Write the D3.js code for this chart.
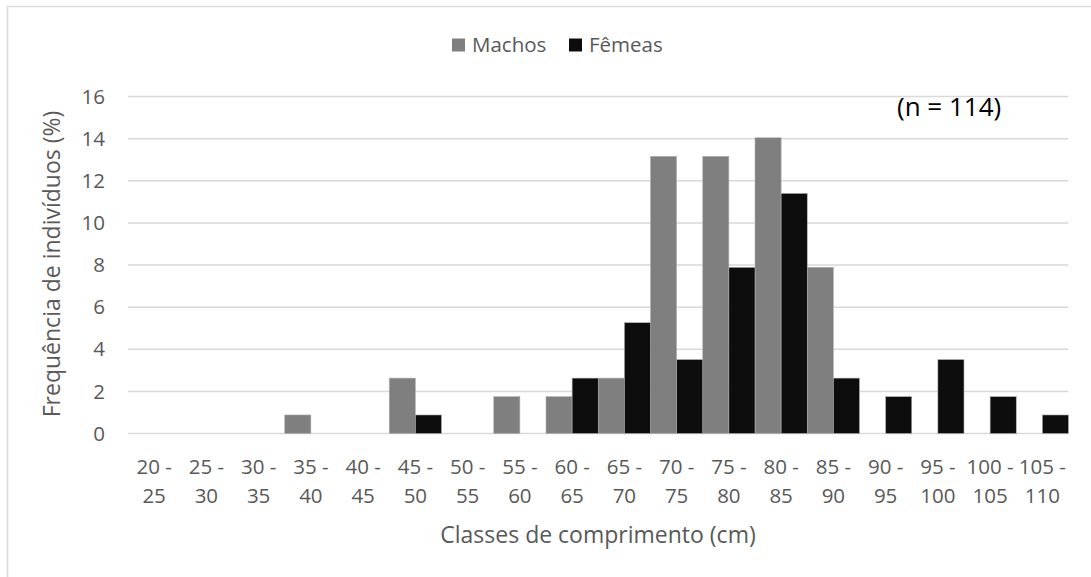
<!DOCTYPE html>
<html><head><meta charset="utf-8">
<script src="https://cdn.jsdelivr.net/npm/d3@7"></script>
<style>body{margin:0;background:#fff;} svg{display:block;}</style>
</head><body>
<svg id="c" width="1091" height="577"></svg>
<script>
const categories = [["20 -","25"],["25 -","30"],["30 -","35"],["35 -","40"],["40 -","45"],["45 -","50"],["50 -","55"],["55 -","60"],["60 -","65"],["65 -","70"],["70 -","75"],["75 -","80"],["80 -","85"],["85 -","90"],["90 -","95"],["95 -","100"],["100 -","105"],["105 -","110"]];
const machos = [0,0,0,0.88,0,2.63,0,1.75,1.75,2.63,13.16,13.16,14.04,7.89,0,0,0,0];
const femeas = [0,0,0,0,0,0.88,0,0,2.63,5.26,3.51,7.89,11.40,2.63,1.75,3.51,1.75,0.88];
const yTicks = [0,2,4,6,8,10,12,14,16];
const seriesNames = ["Machos","Fêmeas"];
const colors = ["#7f7f7f","#0d0d0d"];

const svg = d3.select("#c");
const font = "'Open Sans', sans-serif";
const m = {left:128, right:1068.5, top:96.5, bottom:433.5};

svg.append("rect").attr("x",7.5).attr("y",6.5).attr("width",1200).attr("height",700)
  .attr("fill","#fff").attr("stroke","#d9d9d9").attr("stroke-width",1.5);

const x = d3.scaleBand().domain(d3.range(categories.length)).range([m.left,m.right]).padding(0);
const xs = d3.scaleBand().domain([0,1]).range([0,x.bandwidth()]).padding(0);
const y = d3.scaleLinear().domain([0,16]).range([m.bottom,m.top]);

// gridlines
svg.append("g").selectAll("line").data(yTicks).join("line")
  .attr("x1",m.left).attr("x2",m.right)
  .attr("y1",d=>y(d)).attr("y2",d=>y(d))
  .attr("stroke","#d9d9d9").attr("stroke-width",1.5);

// y tick labels
svg.append("g").selectAll("text").data(yTicks).join("text")
  .attr("x",105).attr("y",d=>y(d)).attr("dy","0.35em")
  .attr("text-anchor","end").attr("font-family",font).attr("font-size",20.5)
  .attr("fill","#595959").text(d=>d);

// bars
const series = [machos,femeas];
series.forEach((vals,si)=>{
  svg.append("g").selectAll("rect").data(vals).join("rect")
    .attr("x",(d,i)=>x(i)+xs(si)).attr("width",xs.bandwidth())
    .attr("y",d=>y(d)).attr("height",d=>y(0)-y(d))
    .attr("fill",colors[si])
    .attr("stroke",d=>d>0?"#b0b0b0":"none").attr("stroke-width",0.6);
});

// x labels
const xl = svg.append("g").selectAll("text").data(categories).join("text")
  .attr("text-anchor","middle").attr("font-family",font).attr("font-size",20.5).attr("fill","#595959");
xl.append("tspan").attr("x",(d,i)=>x(i)+x.bandwidth()/2).attr("y",474).text(d=>d[0]);
xl.append("tspan").attr("x",(d,i)=>x(i)+x.bandwidth()/2).attr("y",503).text(d=>d[1]);

// axis titles
svg.append("text").attr("x",598).attr("y",543).attr("text-anchor","middle")
  .attr("font-family",font).attr("font-size",23).attr("fill","#595959")
  .text("Classes de comprimento (cm)");
svg.append("text").attr("transform","translate(60,264) rotate(-90)").attr("text-anchor","middle")
  .attr("font-family",font).attr("font-size",23).attr("fill","#595959")
  .text("Frequência de indivíduos (%)");

// legend
const lg = svg.append("g");
const legendX = [452,569];
seriesNames.forEach((n,i)=>{
  lg.append("rect").attr("x",legendX[i]).attr("y",38.5).attr("width",13).attr("height",13).attr("fill",colors[i]);
  lg.append("text").attr("x",legendX[i]+20).attr("y",45).attr("dy","0.35em")
    .attr("font-family",font).attr("font-size",20.5).attr("fill","#595959").text(n);
});

// annotation
svg.append("text").attr("x",897).attr("y",116)
  .attr("font-family",font).attr("font-size",26).attr("fill","#000").text("(n = 114)");
</script>
</body></html>
